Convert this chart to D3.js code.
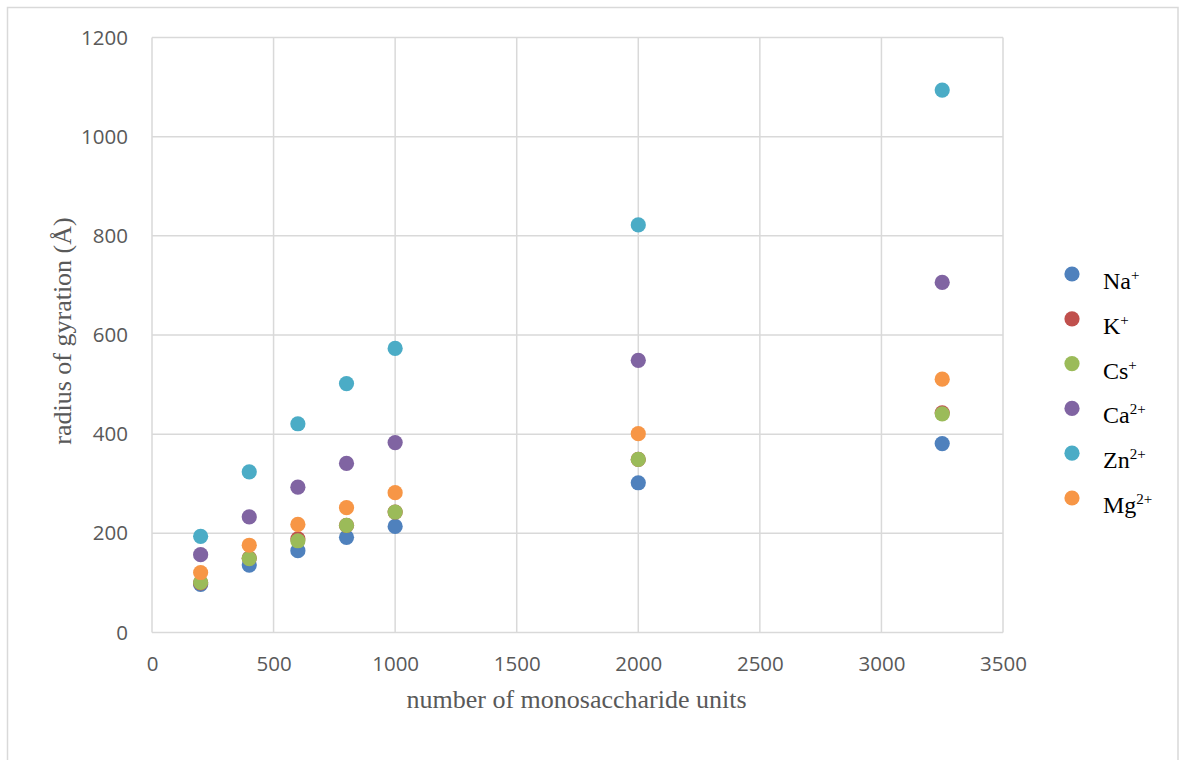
<!DOCTYPE html>
<html>
<head>
<meta charset="utf-8">
<script src="https://cdn.jsdelivr.net/npm/d3@7"></script>
<style>
  html, body { margin: 0; padding: 0; background: #fff; }
  svg { display: block; }
</style>
</head>
<body>
<svg id="chart" width="1179" height="760"></svg>
<script>
// Monosaccharide chain lengths
const units = [200, 400, 600, 800, 1000, 2000, 3250];

// Radius of gyration (Å) per counter-ion
const naValues = [97, 136, 165, 192, 214, 302, 381];
const kValues  = [100, 150, 189, 216, 243, 349, 443];
const csValues = [101, 149, 185, 216, 243, 349, 441];
const caValues = [157, 233, 293, 341, 383, 549, 706];
const znValues = [194, 324, 421, 502, 573, 822, 1094];
const mgValues = [121, 176, 218, 252, 282, 401, 511];

const ionNames   = ["Na", "K", "Cs", "Ca", "Zn", "Mg"];
const ionCharges = ["+", "+", "+", "2+", "2+", "2+"];
const ionColors  = ["#4F81BD", "#C0504D", "#9BBB59", "#8064A2", "#4BACC6", "#F79646"];

const xTicks = [0, 500, 1000, 1500, 2000, 2500, 3000, 3500];
const yTicks = [0, 200, 400, 600, 800, 1000, 1200];

const series = [naValues, kValues, csValues, caValues, znValues, mgValues].map((vals, i) => ({
  name: ionNames[i],
  charge: ionCharges[i],
  color: ionColors[i],
  points: units.map((u, j) => ({ x: u, y: vals[j] }))
}));

const svg = d3.select("#chart");
const W = 1179, H = 760;

// Outer chart frame
svg.append("rect")
  .attr("x", 7.5).attr("y", 7.5)
  .attr("width", 1170.5).attr("height", H + 20)
  .attr("fill", "#fff")
  .attr("stroke", "#d9d9d9").attr("stroke-width", 1.5);

const plot = { left: 152, right: 1003, top: 37.5, bottom: 632.5 };

const x = d3.scaleLinear().domain([0, 3500]).range([plot.left, plot.right]);
const y = d3.scaleLinear().domain([0, 1200]).range([plot.bottom, plot.top]);

const tickFont = "'Open Sans', 'DejaVu Sans', sans-serif";
const serifFont = "'Liberation Serif', 'Times New Roman', serif";
const textGrey = "#595959";
const plain = d3.format("d");

// Gridlines
const grid = svg.append("g").attr("stroke", "#d9d9d9").attr("stroke-width", 1.5);
grid.selectAll("line.v").data(xTicks).join("line")
  .attr("class", "v")
  .attr("x1", d => x(d)).attr("x2", d => x(d))
  .attr("y1", plot.top).attr("y2", plot.bottom);
grid.selectAll("line.h").data(yTicks).join("line")
  .attr("class", "h")
  .attr("x1", plot.left).attr("x2", plot.right)
  .attr("y1", d => y(d)).attr("y2", d => y(d));

// Axes (labels only; lines come from the grid)
const xAxis = svg.append("g")
  .attr("transform", `translate(0,${plot.bottom})`)
  .call(d3.axisBottom(x).tickValues(xTicks).tickFormat(plain).tickSize(0).tickPadding(24));
const yAxis = svg.append("g")
  .attr("transform", `translate(${plot.left},0)`)
  .call(d3.axisLeft(y).tickValues(yTicks).tickFormat(plain).tickSize(0).tickPadding(24));
[xAxis, yAxis].forEach(g => {
  g.select(".domain").remove();
  g.selectAll("text")
    .attr("fill", textGrey)
    .style("font-family", tickFont)
    .style("font-size", "20.5px");
});

// Axis titles
svg.append("text")
  .attr("x", (plot.left + plot.right) / 2 - 1)
  .attr("y", 708)
  .attr("text-anchor", "middle")
  .attr("fill", textGrey)
  .style("font-family", serifFont)
  .style("font-size", "26px")
  .text("number of monosaccharide units");

svg.append("text")
  .attr("transform", `translate(71,${(plot.top + plot.bottom) / 2 - 4}) rotate(-90)`)
  .attr("text-anchor", "middle")
  .attr("fill", textGrey)
  .style("font-family", serifFont)
  .style("font-size", "26px")
  .text("radius of gyration (Å)");

// Data points
const r = 7.6;
const marks = svg.append("g");
series.forEach(s => {
  marks.append("g").selectAll("circle").data(s.points).join("circle")
    .attr("cx", d => x(d.x))
    .attr("cy", d => y(d.y))
    .attr("r", r)
    .attr("fill", s.color);
});

// Legend
const legend = svg.append("g").attr("transform", "translate(1072,274)");
const item = legend.selectAll("g").data(series).join("g")
  .attr("transform", (d, i) => `translate(0,${i * 44.8})`);
item.append("circle").attr("r", r).attr("fill", d => d.color);
const label = item.append("text")
  .attr("x", 31).attr("y", 15)
  .attr("fill", "#000")
  .style("font-family", serifFont)
  .style("font-size", "24px");
label.append("tspan").text(d => d.name);
label.append("tspan")
  .attr("dy", -9)
  .style("font-size", "15px")
  .text(d => d.charge);
</script>
</body>
</html>
